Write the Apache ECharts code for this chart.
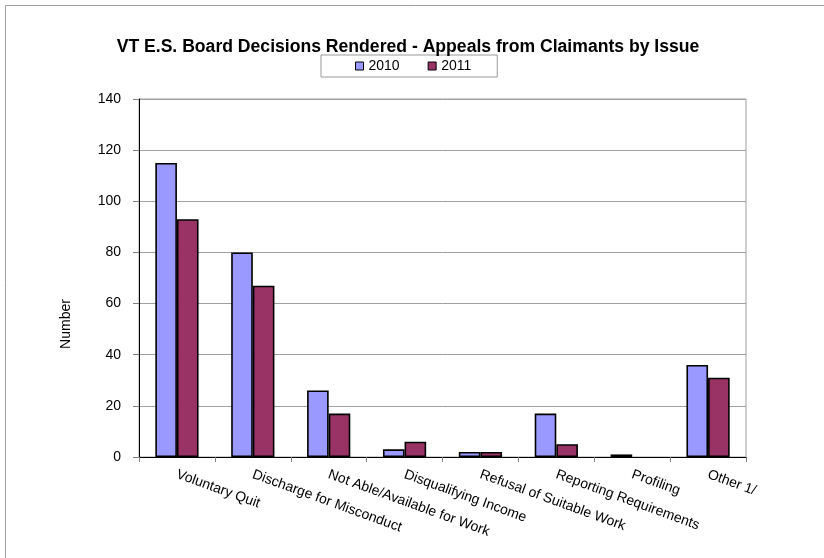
<!DOCTYPE html>
<html><head><meta charset="utf-8">
<script src="https://cdn.jsdelivr.net/npm/echarts@6/dist/echarts.min.js"></script>
<style>html,body{margin:0;padding:0;background:#fff}#c{width:824px;height:558px}</style>
</head><body><div id="c"></div>
<script>
const categories = ["Voluntary Quit","Discharge for Misconduct","Not Able/Available for Work","Disqualifying Income","Refusal of Suitable Work","Reporting Requirements","Profiling","Other 1/"];
const values2010 = [115, 80, 26, 3, 2, 17, 1, 36];
const values2011 = [93, 67, 17, 6, 2, 5, 0, 31];
const seriesNames = ["2010", "2011"];
const yTicks = {min: 0, max: 140, interval: 20};

const FONT = "'Liberation Sans Narrow', 'Arial Narrow', 'Liberation Sans', Arial, sans-serif";
const toData = arr => arr.map(v => v === 0 ? {value: v, itemStyle: {borderWidth: 0}} : v);
const chart = echarts.init(document.getElementById('c'), null, {renderer: 'canvas'});
chart.setOption({
  animation: false,
  backgroundColor: '#fff',
  title: {
    text: 'VT E.S. Board Decisions Rendered - Appeals from Claimants by Issue',
    left: 403, top: 33, textAlign: 'center',
    textStyle: {fontFamily: FONT, fontWeight: 'bold', fontSize: 17.6, color: '#000'}
  },
  legend: {
    data: seriesNames,
    left: 321, top: 55,
    padding: [4, 26, 4, 34],
    borderColor: '#999', borderWidth: 1,
    itemWidth: 8, itemHeight: 8, itemGap: 28,
    icon: 'rect',
    itemStyle: {borderColor: '#000', borderWidth: 1},
    textStyle: {fontFamily: FONT, fontSize: 14, color: '#000'}
  },
  graphic: [
    {type: 'rect', shape: {x: 5.5, y: 5.5, width: 900, height: 700}, style: {fill: 'none', stroke: '#a0a0a0', lineWidth: 1}, silent: true, z: -1},
    {type: 'text', x: 66, y: 324, rotation: Math.PI / 2,
     style: {text: 'Number', fontFamily: FONT, fontSize: 14, fill: '#000', textAlign: 'center', textVerticalAlign: 'middle'}}
  ],
  grid: {left: 139, right: 78, top: 99, bottom: 101, show: true, borderColor: '#a0a0a0', borderWidth: 1},
  xAxis: {
    type: 'category', data: categories,
    axisLine: {lineStyle: {color: '#000', width: 1}},
    axisTick: {show: true, alignWithLabel: false, length: 5, lineStyle: {color: '#808080'}},
    axisLabel: {rotate: -20, interval: 0, margin: 17, fontFamily: FONT, fontSize: 14, color: '#000'}
  },
  yAxis: {
    type: 'value', min: yTicks.min, max: yTicks.max, interval: yTicks.interval,
    axisLine: {show: true, lineStyle: {color: '#000', width: 1}},
    axisTick: {show: true, length: 6, lineStyle: {color: '#808080'}},
    axisLabel: {margin: 18, fontFamily: FONT, fontSize: 14, color: '#000'},
    splitLine: {show: true, lineStyle: {color: '#a0a0a0', width: 1}}
  },
  series: [
    {name: seriesNames[0], type: 'bar', data: toData(values2010), barGap: '0%', barCategoryGap: '43%',
     itemStyle: {color: '#9999FF', borderColor: '#000', borderWidth: 1.6}},
    {name: seriesNames[1], type: 'bar', data: toData(values2011),
     itemStyle: {color: '#993366', borderColor: '#000', borderWidth: 1.6}}
  ]
});
</script>
</body></html>
